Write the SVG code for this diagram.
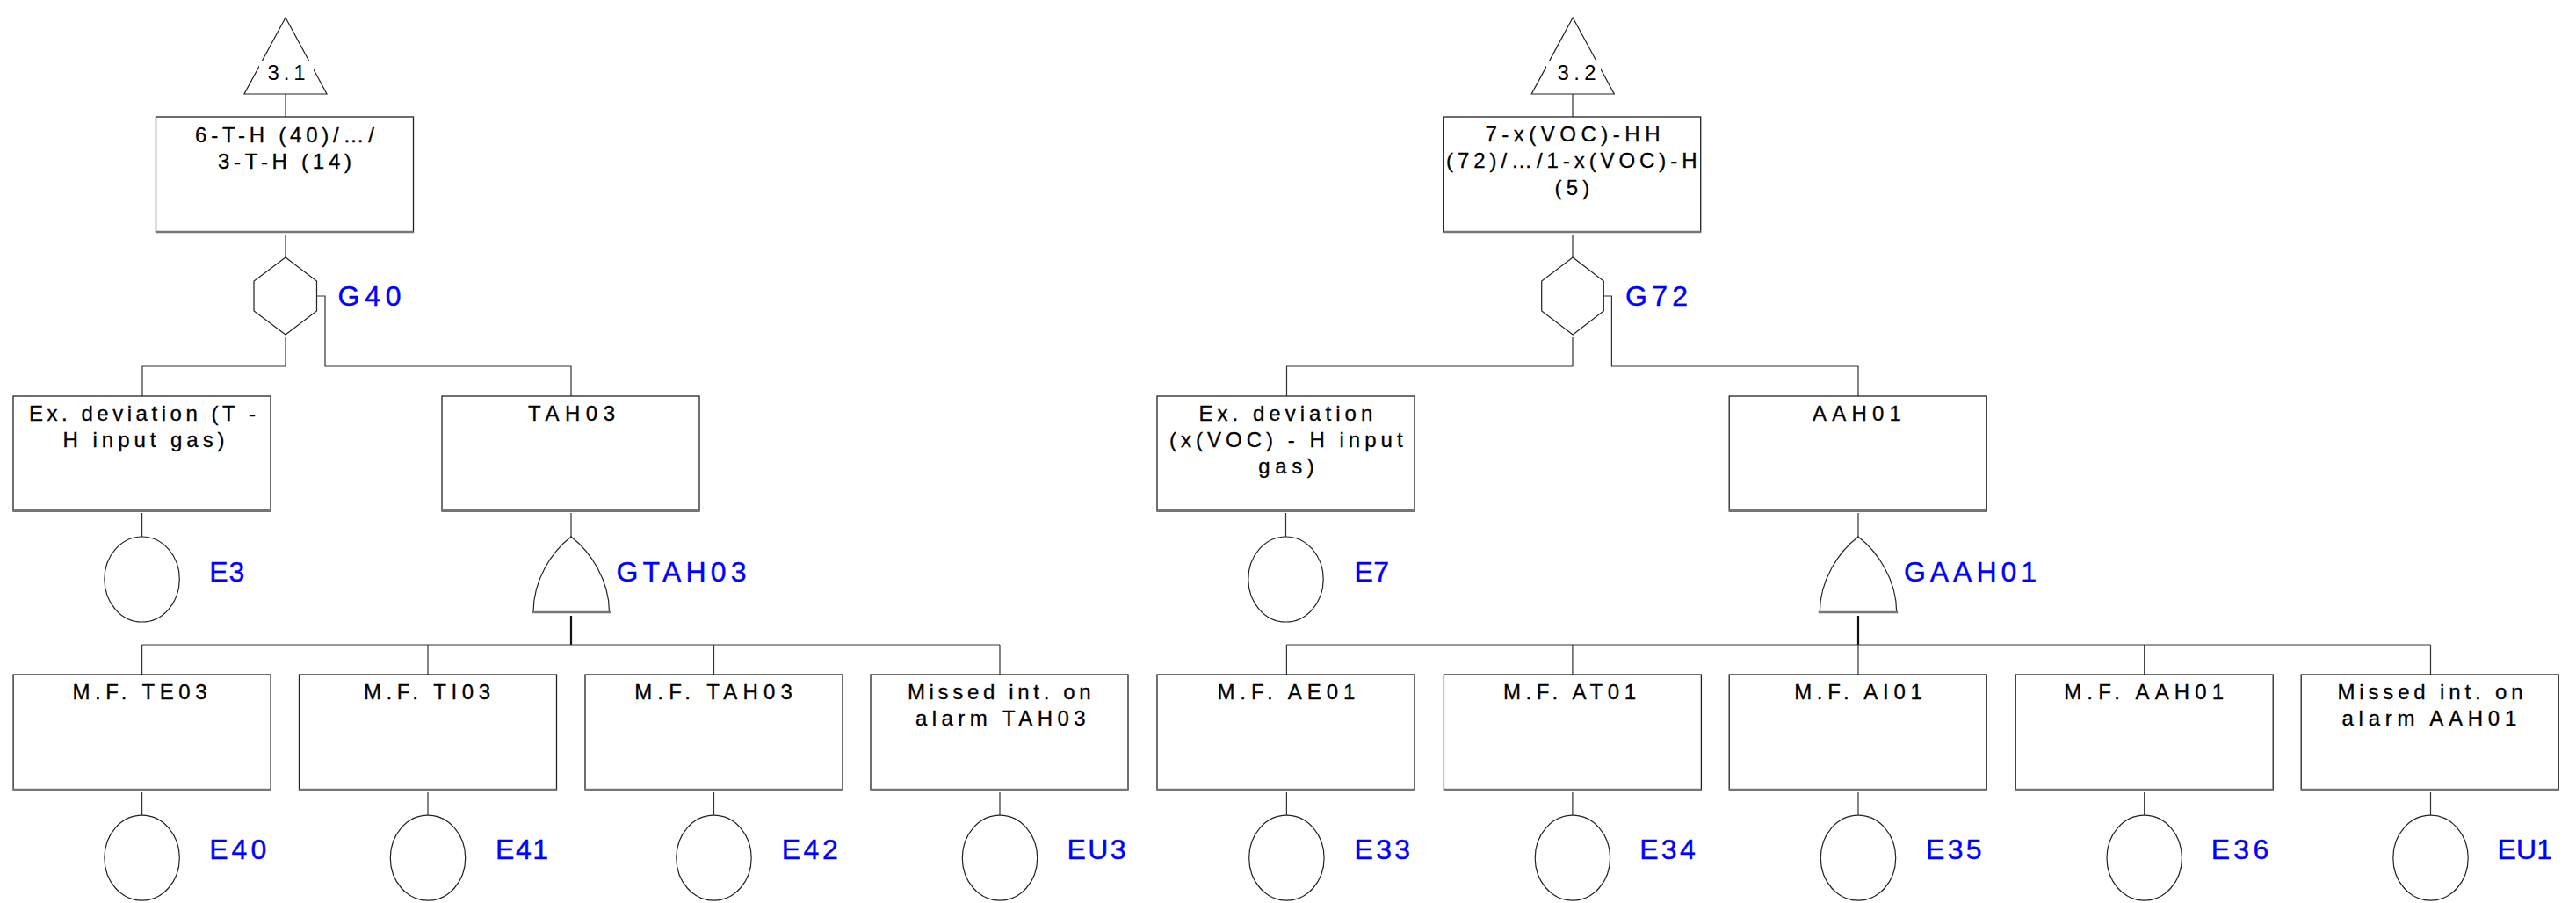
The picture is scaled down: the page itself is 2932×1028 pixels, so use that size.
<svg xmlns="http://www.w3.org/2000/svg" width="2932" height="1028" viewBox="0 0 2932 1028">
<style>
.bg{fill:#fff}
.box{fill:#fff;stroke:#222;stroke-width:1.3}
.bot{stroke:#777;stroke-width:2.6;fill:none}
.ln{stroke:#333;stroke-width:1.2;fill:none}
.thk{stroke:#111;stroke-width:2.2;fill:none}
.sh{fill:#fff;stroke:#222;stroke-width:1.2}
.t{font-family:"Liberation Sans",Arial,sans-serif;font-size:24px;fill:#000;stroke:#000;stroke-width:0.3;text-anchor:middle}
.tt{font-family:"Liberation Sans",Arial,sans-serif;font-size:24px;fill:#000;text-anchor:middle}
.lb{font-family:"Liberation Sans",Arial,sans-serif;font-size:32px;fill:#0000ff;stroke:#0000ff;stroke-width:0.4}
</style>
<rect class="bg" x="0" y="0" width="2932" height="1028"/>

<g id="connectors">
  <path class="ln" d="M325,107V133M325,267V293"/>
  <path class="ln" d="M325,384V417H162V451"/>
  <path class="ln" d="M360.5,337H370V417H650V451"/>
  <path class="ln" d="M161.6,584V611M650,584V611"/>
  <path class="thk" d="M650,701V734"/>
  <path class="ln" d="M161.6,734H1138M161.6,734V768M487,734V768M812.5,734V768M1138,734V768"/>
  <path class="ln" d="M161.6,902V928M487,902V928M812.5,902V928M1138,902V928"/>

  <path class="ln" d="M1790,107V133M1790,267V293"/>
  <path class="ln" d="M1790,384V417H1464.5V451"/>
  <path class="ln" d="M1825.3,337H1834.4V417H2115V451"/>
  <path class="ln" d="M1463.5,584V611M2115,584V611"/>
  <path class="thk" d="M2115,701V734"/>
  <path class="ln" d="M1464.4,734H2766.5M1464.4,734V768M1789.9,734V768M2115,734V768M2440.7,734V768M2766.5,734V768"/>
  <path class="ln" d="M1464.4,902V928M1789.9,902V928M2115,902V928M2440.7,902V928M2766.5,902V928"/>
</g>

<!-- Left tree -->
<g id="T31">
  <polygon class="sh" points="325,20 372,107 278,107"/>
  <rect class="bg" x="295" y="69" width="62" height="26"/>
  <text class="tt" x="326" y="91" textLength="43">3.1</text>
</g>
<g id="top1">
  <rect class="box" x="177.5" y="133" width="293" height="131"/>
  <path class="bot" d="M177.5,264H470.5"/>
  <text class="t" x="324" y="162" textLength="204" lengthAdjust="spacing">6-T-H (40)/…/</text>
  <text class="t" x="324" y="192" textLength="152" lengthAdjust="spacing">3-T-H (14)</text>
</g>
<g id="G40">
  <polygon class="sh" points="325,293 360.5,320 360.5,354 325,381 289,354 289,320"/>
  <text class="lb" x="384.6" y="348" textLength="72">G40</text>
</g>
<g id="ExT">
  <rect class="box" x="15" y="451" width="293" height="131"/>
  <path class="bot" d="M15,581H308"/>
  <text class="t" x="162" y="479.3" textLength="258" lengthAdjust="spacing">Ex. deviation (T -</text>
  <text class="t" x="163.6" y="509.3" textLength="184" lengthAdjust="spacing">H input gas)</text>
</g>
<g id="E3">
  <ellipse class="sh" cx="161.6" cy="659.5" rx="42.7" ry="48.5"/>
  <text class="lb" x="238.2" y="662.3" textLength="40">E3</text>
</g>
<g id="TAH03">
  <rect class="box" x="503" y="451" width="293" height="131"/>
  <path class="bot" d="M503,581H796"/>
  <text class="t" x="650.5" y="479.3" textLength="99" lengthAdjust="spacing">TAH03</text>
</g>
<g id="GTAH03">
  <path class="sh" d="M650,611C628,628 607,660 607,697H693.5C693.5,660 672,628 650,611Z"/>
  <path class="bot" d="M605.5,697H695"/>
  <text class="lb" x="701.5" y="661.7" textLength="148">GTAH03</text>
</g>
<g id="MFTE03">
  <rect class="box" x="15.1" y="768" width="293" height="131"/>
  <path class="bot" d="M15.1,899H308.1"/>
  <text class="t" x="159" y="796" textLength="153" lengthAdjust="spacing">M.F. TE03</text>
</g>
<g id="E40">
  <ellipse class="sh" cx="161.6" cy="976.7" rx="42.7" ry="48.5"/>
  <text class="lb" x="238.2" y="978.3" textLength="65">E40</text>
</g>
<g id="MFTI03">
  <rect class="box" x="340.5" y="768" width="293" height="131"/>
  <path class="bot" d="M340.5,899H633.5"/>
  <text class="t" x="486" y="796" textLength="144" lengthAdjust="spacing">M.F. TI03</text>
</g>
<g id="E41">
  <ellipse class="sh" cx="487" cy="976.7" rx="42.7" ry="48.5"/>
  <text class="lb" x="564" y="978.3" textLength="60">E41</text>
</g>
<g id="MFTAH03">
  <rect class="box" x="666" y="768" width="293" height="131"/>
  <path class="bot" d="M666,899H959"/>
  <text class="t" x="812" y="796" textLength="179.5" lengthAdjust="spacing">M.F. TAH03</text>
</g>
<g id="E42">
  <ellipse class="sh" cx="812.5" cy="976.7" rx="42.7" ry="48.5"/>
  <text class="lb" x="889.7" y="978.3" textLength="64">E42</text>
</g>
<g id="MissTAH03">
  <rect class="box" x="991" y="768" width="293" height="131"/>
  <path class="bot" d="M991,899H1284"/>
  <text class="t" x="1137.3" y="796" textLength="208.8" lengthAdjust="spacing">Missed int. on</text>
  <text class="t" x="1138.8" y="826" textLength="193.7" lengthAdjust="spacing">alarm TAH03</text>
</g>
<g id="EU3">
  <ellipse class="sh" cx="1138" cy="976.7" rx="42.7" ry="48.5"/>
  <text class="lb" x="1214.6" y="978.3" textLength="67">EU3</text>
</g>

<!-- Right tree -->
<g id="T32">
  <polygon class="sh" points="1790.2,20 1837.3,107 1743.2,107"/>
  <rect class="bg" x="1760" y="69" width="62" height="26"/>
  <text class="tt" x="1794.5" y="90.7" textLength="44">3.2</text>
</g>
<g id="top2">
  <rect class="box" x="1642.7" y="133" width="293" height="131"/>
  <path class="bot" d="M1642.7,264H1935.7"/>
  <text class="t" x="1790" y="161" textLength="199" lengthAdjust="spacing">7-x(VOC)-HH</text>
  <text class="t" x="1788.8" y="191" textLength="285.5" lengthAdjust="spacing">(72)/…/1-x(VOC)-H</text>
  <text class="t" x="1789.4" y="221.7" textLength="39.6" lengthAdjust="spacing">(5)</text>
</g>
<g id="G72">
  <polygon class="sh" points="1790.2,293 1825.3,320 1825.3,354 1790.2,381 1754.7,354 1754.7,320"/>
  <text class="lb" x="1850" y="348" textLength="71">G72</text>
</g>
<g id="ExVOC">
  <rect class="box" x="1317" y="451" width="293" height="131"/>
  <path class="bot" d="M1317,581H1610"/>
  <text class="t" x="1463.4" y="479.3" textLength="197.8" lengthAdjust="spacing">Ex. deviation</text>
  <text class="t" x="1463.8" y="509.3" textLength="265.6" lengthAdjust="spacing">(x(VOC) - H input</text>
  <text class="t" x="1464" y="539.3" textLength="63.5" lengthAdjust="spacing">gas)</text>
</g>
<g id="E7">
  <ellipse class="sh" cx="1463.5" cy="659.5" rx="42.7" ry="48.5"/>
  <text class="lb" x="1541.5" y="662.3" textLength="39.5">E7</text>
</g>
<g id="AAH01">
  <rect class="box" x="1968.2" y="451" width="293" height="131"/>
  <path class="bot" d="M1968.2,581H2261.2"/>
  <text class="t" x="2113.4" y="479.3" textLength="101" lengthAdjust="spacing">AAH01</text>
</g>
<g id="GAAH01">
  <path class="sh" d="M2115,611C2093,628 2071.3,660 2071.3,697H2158.7C2158.7,660 2137,628 2115,611Z"/>
  <path class="bot" d="M2069.8,697H2160.2"/>
  <text class="lb" x="2167" y="661.7" textLength="151">GAAH01</text>
</g>
<g id="MFAE01">
  <rect class="box" x="1317" y="768" width="293" height="131"/>
  <path class="bot" d="M1317,899H1610"/>
  <text class="t" x="1463.9" y="796" textLength="157" lengthAdjust="spacing">M.F. AE01</text>
</g>
<g id="E33">
  <ellipse class="sh" cx="1464.4" cy="976.7" rx="42.7" ry="48.5"/>
  <text class="lb" x="1541.5" y="978.3" textLength="63.5">E33</text>
</g>
<g id="MFAT01">
  <rect class="box" x="1643.4" y="768" width="293" height="131"/>
  <path class="bot" d="M1643.4,899H1936.4"/>
  <text class="t" x="1786.5" y="796" textLength="151" lengthAdjust="spacing">M.F. AT01</text>
</g>
<g id="E34">
  <ellipse class="sh" cx="1789.9" cy="976.7" rx="42.7" ry="48.5"/>
  <text class="lb" x="1866.2" y="978.3" textLength="63.5">E34</text>
</g>
<g id="MFAI01">
  <rect class="box" x="1968.2" y="768" width="293" height="131"/>
  <path class="bot" d="M1968.2,899H2261.2"/>
  <text class="t" x="2115" y="796" textLength="145.7" lengthAdjust="spacing">M.F. AI01</text>
</g>
<g id="E35">
  <ellipse class="sh" cx="2115" cy="976.7" rx="42.7" ry="48.5"/>
  <text class="lb" x="2192" y="978.3" textLength="63.5">E35</text>
</g>
<g id="MFAAH01">
  <rect class="box" x="2294.2" y="768" width="293" height="131"/>
  <path class="bot" d="M2294.2,899H2587.2"/>
  <text class="t" x="2440.2" y="796" textLength="182" lengthAdjust="spacing">M.F. AAH01</text>
</g>
<g id="E36">
  <ellipse class="sh" cx="2440.7" cy="976.7" rx="42.7" ry="48.5"/>
  <text class="lb" x="2516.7" y="978.3" textLength="65.5">E36</text>
</g>
<g id="MissAAH01">
  <rect class="box" x="2619.2" y="768" width="293" height="131"/>
  <path class="bot" d="M2619.2,899H2912.2"/>
  <text class="t" x="2766" y="796" textLength="211" lengthAdjust="spacing">Missed int. on</text>
  <text class="t" x="2764.9" y="826" textLength="198.8" lengthAdjust="spacing">alarm AAH01</text>
</g>
<g id="EU1">
  <ellipse class="sh" cx="2766.5" cy="976.7" rx="42.7" ry="48.5"/>
  <text class="lb" x="2842.5" y="978.3" textLength="62.5">EU1</text>
</g>
</svg>
